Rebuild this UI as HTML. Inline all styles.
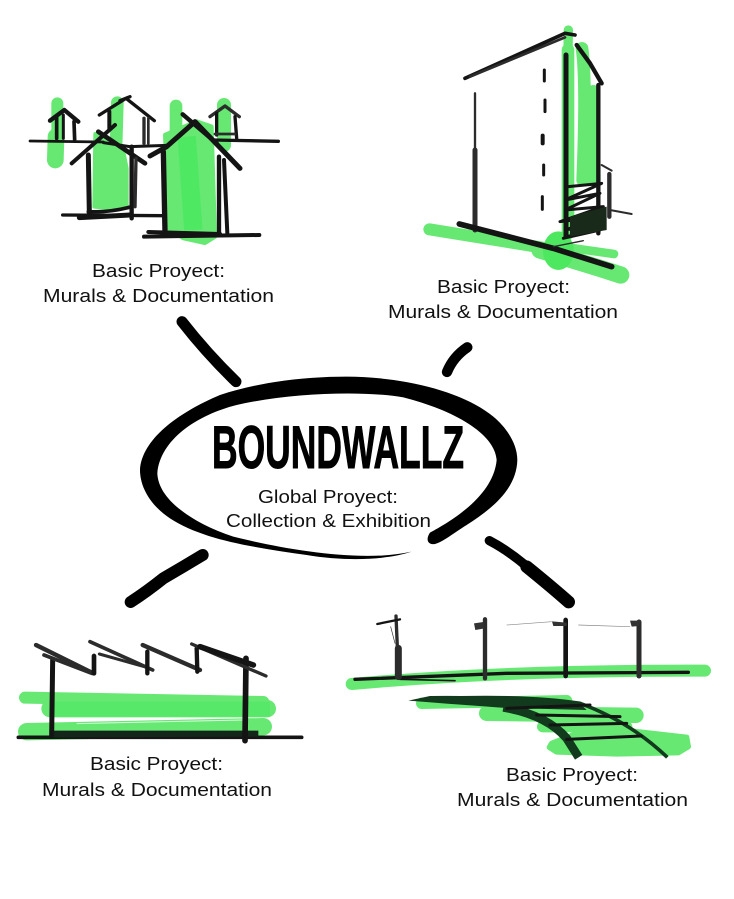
<!DOCTYPE html>
<html><head><meta charset="utf-8"><style>
html,body{margin:0;padding:0;background:#fff;width:734px;height:899px;overflow:hidden}
svg{display:block}
text{font-family:"Liberation Sans",sans-serif;fill:#111;font-size:18px}
.g{fill:#66e873;stroke:#66e873;stroke-linejoin:round;stroke-linecap:round}
.gs{fill:none;stroke:#66e873;stroke-linecap:round;stroke-linejoin:round}
.k{fill:none;stroke:#141414;stroke-linecap:round;stroke-linejoin:round}
.d{fill:none;stroke:#2c2c2c;stroke-linecap:round;stroke-linejoin:round}
.r{fill:none;stroke:#000;stroke-linecap:round;stroke-linejoin:round}
</style></head><body>
<svg width="734" height="899" viewBox="0 0 734 899" xmlns="http://www.w3.org/2000/svg">
<rect width="734" height="899" fill="#fff"/>

<!-- Houses -->
<g transform="translate(20,80) scale(.33333)">
<path class="gs" stroke-width="36" d="M112,70 L112,170"/>
<path class="gs" stroke-width="50" d="M108,170 L106,240"/>
<path class="gs" stroke-width="38" d="M292,68 L288,205"/>
<path class="g" stroke-width="12" d="M226,162 L310,215 L320,265 L320,380 L280,386 L223,380 Z"/>
<path class="gs" stroke-width="42" d="M612,75 L612,195"/>
<path class="gs" stroke-width="38" d="M468,78 L468,170"/>
<path class="g" stroke-width="14" d="M436,165 L530,125 L574,140 L584,470 L555,488 L490,474 L447,445 Z"/>
<path d="M500,170 L520,450" stroke="#4fe862" stroke-width="55" fill="none"/>
<path class="k" stroke-width="8" d="M30,183 L250,186"/>
<path class="k" stroke-width="9" d="M250,188 L330,200 L440,196"/>
<path class="k" stroke-width="10" d="M580,180 L775,184"/>
<path class="k" stroke-width="13" d="M90,122 L133,90 L175,125"/>
<path class="k" stroke-width="11" d="M110,110 L110,175 M162,125 L164,180"/>
<path class="k" stroke-width="9" d="M130,105 L130,175"/>
<path class="k" stroke-width="10" d="M238,105 L318,55 L403,122 M300,62 L330,50"/>
<path class="k" stroke-width="12" d="M268,95 L268,145"/>
<path class="d" stroke-width="10" d="M372,115 L372,190"/>
<path class="d" stroke-width="8" d="M385,115 L385,190"/>
<path class="k" stroke-width="12" d="M155,250 L285,135"/>
<path class="k" stroke-width="14" d="M235,155 L375,250"/>
<path class="k" stroke-width="15" d="M205,225 L208,400"/>
<path class="k" stroke-width="13" d="M335,200 L335,415"/>
<path class="d" stroke-width="10" d="M348,235 L345,380"/>
<path class="k" stroke-width="10" d="M128,405 L430,407"/>
<path class="k" stroke-width="15" d="M178,413 L330,405"/>
<path class="k" stroke-width="11" d="M205,395 Q270,398 335,380"/>
<path class="k" stroke-width="15" d="M390,228 L440,200 L525,125 L660,265"/>
<path class="k" stroke-width="13" d="M488,103 L590,190"/>
<path class="k" stroke-width="16" d="M430,215 L435,455"/>
<path class="k" stroke-width="13" d="M597,230 L597,460"/>
<path class="k" stroke-width="12" d="M612,240 L622,460"/>
<path class="k" stroke-width="12" d="M372,470 L718,465 M385,456 L600,462"/>
<path class="d" stroke-width="10" d="M570,110 L615,78 L658,110"/>
<path class="k" stroke-width="10" d="M590,100 L590,165 M645,110 L650,175"/>
<path class="d" stroke-width="8" d="M585,162 L645,162"/>
</g>

<!-- Tall building -->
<g transform="translate(380,20) scale(.33333)">
<path class="gs" stroke-width="28" d="M565,30 L564,100"/>
<path class="gs" stroke-width="38" d="M564,90 L564,640"/>
<path class="gs" stroke-width="38" d="M606,85 Q620,180 608,480"/>
<path class="gs" stroke-width="40" d="M640,215 L642,480"/>
<path class="gs" stroke-width="36" d="M148,628 L500,685"/>
<path class="gs" stroke-width="26" d="M560,682 L702,702"/>
<path class="gs" stroke-width="52" d="M480,690 L660,745 L722,765"/>
<ellipse cx="535" cy="692" rx="46" ry="58" fill="#4de85f"/>
<path class="k" stroke-width="11" d="M255,175 L555,40 L585,45"/>
<path class="d" stroke-width="8" d="M270,170 L555,52"/>
<path class="k" stroke-width="13" d="M590,75 L630,130 L665,190"/>
<path class="d" stroke-width="7" d="M285,220 L285,390"/>
<path class="d" stroke-width="15" d="M285,390 L285,630"/>
<path class="k" stroke-width="15" d="M558,105 L558,650"/>
<path class="k" stroke-width="13" d="M655,195 L655,640"/>
<path class="k" stroke-width="9" d="M493,150 L493,183 M495,240 L495,275 M491,435 L491,465 M487,530 L487,568"/>
<path class="k" stroke-width="12" d="M488,347 L488,370"/>
<path class="d" stroke-width="6" d="M665,435 L695,452 M690,570 L755,582"/>
<path class="d" stroke-width="13" d="M688,462 L688,590"/>
<path class="k" stroke-width="9" d="M565,500 L665,490 L555,540 L660,520 L555,570 L670,560 L540,605 L670,590 L555,630 L670,610 L550,655 L660,630"/>
<path d="M570,590 L680,560 L680,630 L570,650 Z" fill="#1a2a1a"/>
<path class="k" stroke-width="17" d="M238,612 L520,685 L695,740"/>
<path class="d" stroke-width="4" d="M520,680 L610,662"/>
</g>

<!-- Central ellipse and rays -->
<g transform="translate(120,310) scale(.33333)">
<path fill="#000" d="M875,725 C800,750 680,755 560,735 C400,712 250,690 150,625 C90,585 60,530 60,480 C65,390 170,310 300,255 C420,215 560,200 680,200 C850,200 1030,245 1120,320 C1165,358 1192,405 1192,450 C1190,540 1110,600 1040,645 C1000,670 970,695 945,702 C925,705 915,690 930,668 C990,635 1120,560 1130,450 C1125,370 1000,300 850,262 C720,240 500,250 350,285 C230,315 120,390 112,490 C115,570 220,640 340,680 C480,715 720,760 875,725 Z"/>
<path class="r" stroke-width="33" d="M186,35 Q260,130 348,215"/>
<path class="r" stroke-width="31" d="M1042,112 Q1000,140 981,186"/>
<path class="r" stroke-width="36" d="M248,735 Q190,770 130,805 Q80,845 32,876"/>
<path class="r" stroke-width="28" d="M1108,692 Q1190,735 1270,815"/>
<path class="r" stroke-width="38" d="M1220,770 Q1300,835 1346,876"/>
</g>
<text x="212" y="468" textLength="252" lengthAdjust="spacingAndGlyphs" style="font-size:60px;font-weight:bold;fill:#000;stroke:#000;stroke-width:1">BOUNDWALLZ</text>
<text x="258" y="503" textLength="140" lengthAdjust="spacingAndGlyphs">Global Proyect:</text>
<text x="226" y="527" textLength="205" lengthAdjust="spacingAndGlyphs">Collection &amp; Exhibition</text>

<!-- Factory -->
<g transform="translate(10,630) scale(.33333)">
<path class="gs" stroke-width="36" d="M45,203 L760,216"/>
<path class="gs" stroke-width="52" d="M120,236 L772,236"/>
<path class="gs" stroke-width="52" d="M50,305 L760,290"/>
<path d="M130,215 L780,215 L780,260 L130,260 Z" fill="#4fe862" opacity=".6"/>
<path d="M200,281 L700,270" stroke="#d8fbdc" stroke-width="3" fill="none"/>
<path class="k" stroke-width="11" d="M25,322 L875,322"/>
<path d="M130,302 L745,302 L745,320 L130,322 Z" fill="#14261a"/>
<path class="k" stroke-width="15" d="M128,90 L125,315"/>
<path class="k" stroke-width="17" d="M708,85 L705,332"/>
<path class="d" stroke-width="13" d="M78,45 L250,130"/>
<path class="d" stroke-width="11" d="M102,75 L245,130"/>
<path class="k" stroke-width="14" d="M252,78 L252,130"/>
<path class="d" stroke-width="11" d="M240,35 L428,120"/>
<path class="d" stroke-width="9" d="M268,72 L410,112"/>
<path class="k" stroke-width="13" d="M412,65 L412,130"/>
<path class="d" stroke-width="13" d="M398,45 L570,120"/>
<path class="k" stroke-width="13" d="M560,55 L562,125"/>
<path class="d" stroke-width="10" d="M545,42 L768,138"/>
<path class="k" stroke-width="17" d="M570,50 L730,105"/>
</g>

<!-- Railway -->
<g transform="translate(340,610) scale(.33333)">
<path class="gs" stroke-width="36" d="M35,222 Q500,180 1095,182"/>
<path class="gs" stroke-width="34" d="M245,280 L680,272"/>
<path class="gs" stroke-width="46" d="M440,310 L888,316"/>
<path class="gs" stroke-width="34" d="M608,350 L860,350"/>
<path class="g" stroke-width="16" d="M635,400 L760,350 L1040,382 L1045,410 L1015,428 L830,432 L650,426 L628,412 Z"/>
<path class="k" stroke-width="10" d="M45,208 L500,190 L1045,187"/>
<path class="k" stroke-width="5" d="M180,208 L345,212"/>
<path class="d" stroke-width="10" d="M168,18 L172,110"/>
<path class="d" stroke-width="21" d="M175,115 L175,200"/>
<path class="k" stroke-width="7" d="M112,42 L180,28"/>
<path class="d" stroke-width="2" d="M152,50 L165,100"/>
<path class="d" stroke-width="13" d="M435,28 L435,205"/>
<path d="M402,40 L430,36 L430,56 L406,60 Z" fill="#333"/>
<path class="k" stroke-width="14" d="M677,30 L677,198"/>
<path d="M636,34 L680,38 L680,48 L640,48 Z" fill="#333"/>
<path class="d" stroke-width="15" d="M897,36 L897,198"/>
<path d="M870,32 L904,32 L895,48 L875,50 Z" fill="#333"/>
<path fill="none" stroke="#888" stroke-width="2" d="M500,45 L635,35 M715,45 L870,50"/>
<path d="M205,272 L270,258 Q500,255 720,280 L740,300 L500,294 Q370,285 205,272 Z" fill="#123a1c"/>
<path fill="none" style="stroke:#123a1c" stroke-width="11" d="M275,266 Q560,255 720,280 Q870,335 982,442"/>
<path style="stroke:#123a1c;fill:none" stroke-width="26" d="M490,292 Q620,315 680,385 L716,442"/>
<path class="k" stroke-width="9" d="M500,295 L750,285 M590,315 L840,320 M630,345 L860,340 M680,388 L905,378"/>
</g>

<!-- Labels -->
<text x="92" y="277" textLength="133" lengthAdjust="spacingAndGlyphs">Basic Proyect:</text>
<text x="43" y="302" textLength="231" lengthAdjust="spacingAndGlyphs">Murals &amp; Documentation</text>
<text x="437" y="293" textLength="133" lengthAdjust="spacingAndGlyphs">Basic Proyect:</text>
<text x="388" y="318" textLength="230" lengthAdjust="spacingAndGlyphs">Murals &amp; Documentation</text>
<text x="90" y="770" textLength="133" lengthAdjust="spacingAndGlyphs">Basic Proyect:</text>
<text x="42" y="796" textLength="230" lengthAdjust="spacingAndGlyphs">Murals &amp; Documentation</text>
<text x="506" y="781" textLength="132" lengthAdjust="spacingAndGlyphs">Basic Proyect:</text>
<text x="457" y="806" textLength="231" lengthAdjust="spacingAndGlyphs">Murals &amp; Documentation</text>
</svg>
</body></html>
